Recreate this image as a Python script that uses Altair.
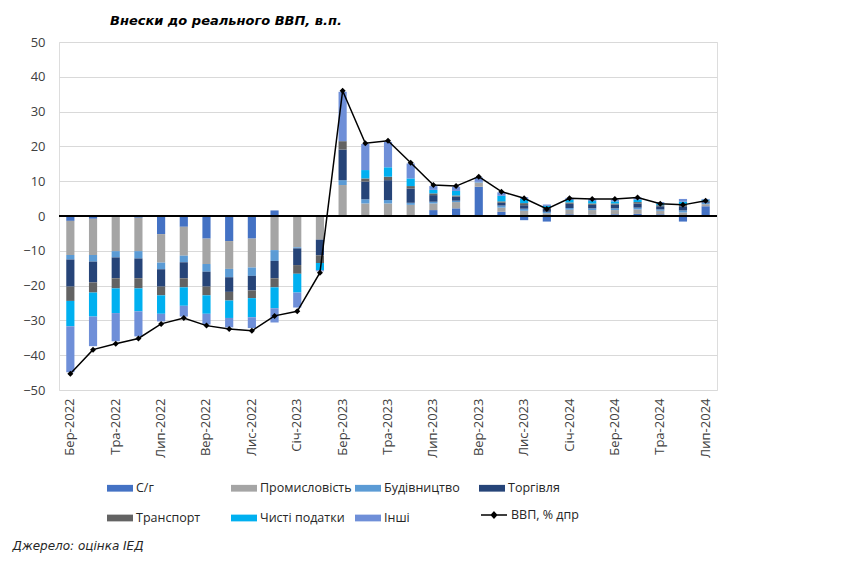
import altair as alt
import pandas as pd

months = ["Бер-2022", "Кві-2022", "Тра-2022", "Чер-2022", "Лип-2022", "Сер-2022",
          "Вер-2022", "Жов-2022", "Лис-2022", "Гру-2022", "Січ-2023", "Лют-2023",
          "Бер-2023", "Кві-2023", "Тра-2023", "Чер-2023", "Лип-2023", "Сер-2023",
          "Вер-2023", "Жов-2023", "Лис-2023", "Гру-2023", "Січ-2024", "Лют-2024",
          "Бер-2024", "Кві-2024", "Тра-2024", "Чер-2024", "Лип-2024"]

series_names = ["С/г", "Промисловість", "Будівництво", "Торгівля",
                "Транспорт", "Чисті податки", "Інші"]
gdp_name = "ВВП, % дпр"

agri = [-1.4, -0.8, -0.3, -0.5, -5.2, -3.1, -6.5, -7.2, -6.5, 1.6, 0.0, 0.0,
        0.0, 0.0, 0.0, 0.0, 1.7, 2.2, 8.4, 1.2, -1.2, -1.6, 0.5, 0.4,
        0.5, 0.6, 0.5, -1.6, 2.8]
industry = [-9.8, -10.4, -9.8, -9.6, -8.2, -8.3, -7.3, -8.0, -8.3, -9.8, -9.0, -6.8,
            8.9, 3.6, 3.6, 3.2, 1.9, 1.8, 1.2, 1.2, 1.5, 0.8, 1.3, 1.3,
            1.2, 1.3, 1.0, 1.0, 0.6]
construction = [-1.3, -1.9, -1.8, -2.1, -1.9, -1.9, -2.2, -2.4, -2.4, -3.1, -0.3, 0.0,
                1.4, 1.2, 1.0, 0.6, 0.5, 0.4, 0.2, 0.6, 0.6, 0.4, 0.5, 0.5,
                0.5, 0.5, 0.4, 0.6, 0.4]
trade = [-7.8, -6.0, -6.0, -5.7, -5.0, -4.6, -4.3, -4.2, -4.2, -5.0, -4.8, -4.5,
         8.8, 5.1, 5.7, 4.1, 1.9, 1.2, 0.0, 0.8, 1.0, 0.8, 1.2, 1.0,
         1.1, 1.2, 0.9, 1.2, 0.4]
transport = [-4.1, -2.9, -2.9, -2.9, -2.5, -2.6, -2.5, -2.5, -2.2, -2.6, -2.5, -2.2,
             2.4, 0.9, 1.0, 0.7, 0.5, 0.3, 0.0, 0.4, 0.6, 0.4, 0.4, 0.4,
             0.3, 0.4, 0.3, 0.4, 0.2]
taxes = [-7.3, -6.9, -7.1, -6.6, -5.3, -5.3, -5.3, -5.0, -5.5, -6.0, -5.4, -2.1,
         0.0, 2.4, 2.7, 2.2, 1.0, 1.3, 0.0, 1.6, 1.2, 0.5, 0.7, 0.7,
         0.6, 0.7, 0.5, 0.9, 0.3]
other = [-13.2, -8.5, -8.1, -7.2, -2.2, -3.1, -3.1, -2.7, -3.1, -4.1, -4.3, -0.3,
         14.2, 7.5, 7.3, 4.3, 1.1, 1.2, 1.3, 1.0, 0.5, 0.4, 0.6, 0.6,
         0.5, 0.6, 0.4, 0.8, 0.2]
gdp = [-45.3, -38.4, -36.7, -35.2, -31.0, -29.3, -31.5, -32.5, -33.0, -28.7, -27.4, -16.3,
       36.0, 20.9, 21.6, 15.3, 8.9, 8.6, 11.3, 7.0, 5.1, 2.0, 5.1, 4.9,
       4.9, 5.3, 3.5, 3.2, 4.4]

colors = ["#4472C4", "#A5A5A5", "#5B9BD5", "#264478", "#636363", "#00B0F0", "#6F8FD8"]

y_ticks = list(range(-50, 51, 10))
x_label_values = months[::2]

rows = []
for k, (name, vals) in enumerate(zip(series_names, [agri, industry, construction, trade,
                                                     transport, taxes, other])):
    for m, v in zip(months, vals):
        rows.append({"month": m, "series": name, "value": v, "order": k})
bars_df = pd.DataFrame(rows)
gdp_df = pd.DataFrame({"month": months, "value": gdp, "series": [gdp_name] * len(months)})

bar_legend = alt.Legend(
    title=None, orient="none", legendX=48, legendY=433, columns=4, direction="horizontal",
    gridAlign="all", columnPadding=3, rowPadding=10,
    symbolType="M-1,-0.26H1V0.26H-1Z", symbolSize=676, symbolStrokeWidth=0,
    symbolOpacity=1,
    labelFont="Open Sans", labelFontSize=12.5, labelColor="#262626", labelOffset=3,
)
line_legend = alt.Legend(
    title=None, orient="none", legendX=421, legendY=459,
    symbolType="M-1,0H1M0,-0.22L0.2,0L0,0.22L-0.2,0Z", symbolSize=676,
    symbolStrokeWidth=1.5, symbolFillColor="#000000", symbolStrokeColor="#000000",
    labelFont="Open Sans", labelFontSize=12.5, labelColor="#262626", labelOffset=3,
)

x_axis = alt.Axis(values=x_label_values, labelAngle=270, labelPadding=8,
                  domain=False, ticks=False, grid=False, labelOverlap=False,
                  labelFont="Open Sans", labelFontSize=13, labelColor="#404040",
                  title="Джерело: оцінка ІЕД", titleX=-47, titleY=159,
                  titleAlign="left", titleAnchor="start", titleBaseline="alphabetic",
                  titleAngle=0,
                  titleFont="DejaVu Sans", titleFontSize=12, titleFontStyle="italic",
                  titleFontWeight="normal", titleColor="#262626")
x_scale = alt.Scale(paddingInner=0.64, paddingOuter=0.32)
y_scale = alt.Scale(domain=[-50, 50], nice=False)
y_axis = alt.Axis(values=y_ticks, title=None, domain=False, ticks=False, grid=True,
                  gridColor="#D9D9D9", labelPadding=14, labelFont="Open Sans",
                  labelOverlap=False, labelFontSize=13, labelColor="#404040")


def xe():
    return alt.X("month:N", sort=months, scale=x_scale, axis=x_axis)


def ye(stack=None):
    if stack:
        return alt.Y("value:Q", stack=stack, scale=y_scale, axis=y_axis)
    return alt.Y("value:Q", scale=y_scale, axis=y_axis)


bars = alt.Chart(bars_df).mark_bar().encode(
    x=xe(),
    y=ye("zero"),
    color=alt.Color("series:N", scale=alt.Scale(domain=series_names, range=colors),
                    legend=bar_legend),
    order=alt.Order("order:Q"),
)

zero = alt.Chart(gdp_df).mark_rule(color="black", strokeWidth=1).encode(
    y=alt.datum(0, scale=y_scale, axis=y_axis))

line = alt.Chart(gdp_df).mark_line(strokeWidth=1.5).encode(
    x=xe(),
    y=ye(),
    stroke=alt.Stroke("series:N", scale=alt.Scale(domain=[gdp_name], range=["#000000"]),
                      legend=line_legend),
)
points = alt.Chart(gdp_df).mark_point(shape="diamond", filled=True, size=36, opacity=1).encode(
    x=xe(),
    y=ye(),
    color=alt.value("black"),
)

chart = alt.layer(bars, zero, line, points).properties(
    width=658, height=348,
    autosize=alt.AutoSizeParams(type="none"),
    padding={"left": 51, "top": 34, "right": 20, "bottom": 165},
    title=alt.TitleParams("Внески до реального ВВП, в.п.", anchor="start", frame="group",
                          dx=51, offset=8, font="DejaVu Sans", fontSize=13,
                          fontStyle="italic", fontWeight="bold", color="#000000"),
).resolve_legend(color="independent", stroke="independent").configure_view(
    stroke=None
).configure(background="white")

chart.save("out.html", embed_options={"renderer": "svg", "actions": False})
